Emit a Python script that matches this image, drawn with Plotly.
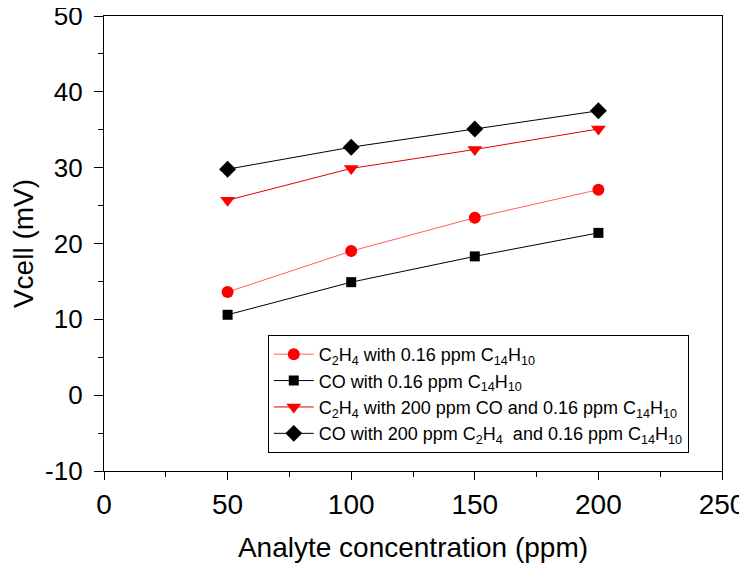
import plotly.graph_objects as go

# analyte concentration (ppm)
conc = [50, 100, 150, 200]

# Vcell (mV) per series
c2h4_pah = [13.6, 19.0, 23.4, 27.1]
co_pah = [10.6, 14.9, 18.3, 21.4]
c2h4_co_pah = [25.7, 29.9, 32.4, 35.1]
co_c2h4_pah = [29.8, 32.7, 35.1, 37.5]

# y tick labels (plain hyphen as in the original)
y_ticks = [-10, 0, 10, 20, 30, 40, 50]
y_tick_labels = ["-10", "0", "10", "20", "30", "40", "50"]

names = [
    "C<sub>2</sub>H<sub>4</sub> with 0.16 ppm C<sub>14</sub>H<sub>10</sub>",
    "CO with 0.16 ppm C<sub>14</sub>H<sub>10</sub>",
    "C<sub>2</sub>H<sub>4</sub> with 200 ppm CO and 0.16 ppm C<sub>14</sub>H<sub>10</sub>",
    "CO with 200 ppm C<sub>2</sub>H<sub>4</sub>  and 0.16 ppm C<sub>14</sub>H<sub>10</sub>",
]

series = [
    (c2h4_pah, "circle", "#ff0000", "#ff6060", 12),
    (co_pah, "square", "black", "black", 10),
    (c2h4_co_pah, "triangle-down", "#ff0000", "#e00000", 13),
    (co_c2h4_pah, "diamond", "black", "black", 13),
]

fig = go.Figure()
for (vals, sym, mcol, lcol, size), name in zip(series, names):
    fig.add_trace(go.Scatter(
        x=conc, y=vals, mode="lines+markers", name=name,
        marker=dict(symbol=sym, color=mcol, size=size, line=dict(width=0)),
        line=dict(color=lcol, width=1),
    ))

axis_common = dict(
    showline=True, linecolor="black", linewidth=1.3, mirror=True,
    showgrid=False, zeroline=False, automargin=False,
    ticks="outside", tickwidth=1.2, tickcolor="black",
    ticklabeloverflow="allow",
)

# the page body adds an 8px offset, so margins are shifted to compensate
fig.update_layout(
    width=747, height=568,
    margin=dict(l=96, r=33, t=8, b=105),
    paper_bgcolor="white", plot_bgcolor="white",
    font=dict(family="Liberation Sans, Arial, sans-serif", color="black"),
    xaxis=dict(
        range=[0, 250], dtick=50, tick0=0, ticklen=8,
        minor=dict(dtick=25, ticks="outside", ticklen=5, tickcolor="black", tickwidth=1.2),
        tickfont=dict(size=28, color="black"), ticklabelstandoff=0,
        title=dict(text="Analyte concentration (ppm)", font=dict(size=28), standoff=18),
        **axis_common,
    ),
    yaxis=dict(
        range=[-10, 50], tickvals=y_ticks, ticktext=y_tick_labels, ticklen=9,
        minor=dict(dtick=5, ticks="outside", ticklen=5, tickcolor="black", tickwidth=1.2),
        tickfont=dict(size=26, color="black"), ticklabelstandoff=6,
        title=dict(text="Vcell (mV)", font=dict(size=28), standoff=5),
        **axis_common,
    ),
    legend=dict(
        x=0.265, y=0.299, xanchor="left", yanchor="top",
        bordercolor="black", borderwidth=1, bgcolor="white",
        font=dict(size=18), tracegroupgap=0, itemwidth=40,
    ),
)

fig.write_html("out.html")
